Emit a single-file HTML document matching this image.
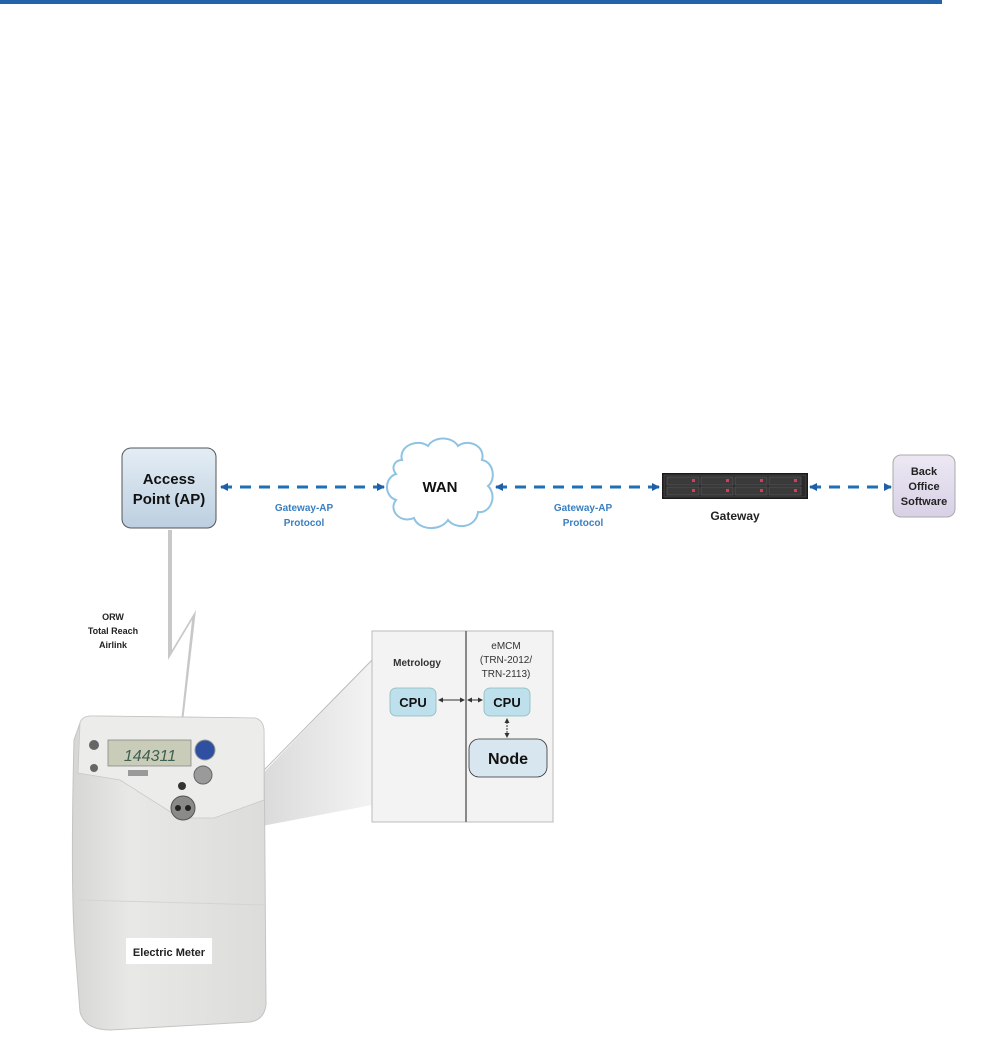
<!DOCTYPE html>
<html><head><meta charset="utf-8"><style>
html,body{margin:0;padding:0;background:#fff;}
svg{display:block;}
text{font-family:"Liberation Sans",sans-serif;font-weight:bold;}
</style></head><body>
<svg width="981" height="1047" viewBox="0 0 981 1047" xmlns="http://www.w3.org/2000/svg">
<defs>
<linearGradient id="ap" x1="0" y1="0" x2="0" y2="1"><stop offset="0" stop-color="#e4edf5"/><stop offset="1" stop-color="#bccfe0"/></linearGradient>
<linearGradient id="bo" x1="0" y1="0" x2="0" y2="1"><stop offset="0" stop-color="#ece8f3"/><stop offset="1" stop-color="#d8d1e6"/></linearGradient>
<linearGradient id="beam" x1="0" y1="0" x2="1" y2="0"><stop offset="0" stop-color="#bbb"/><stop offset="1" stop-color="#eee"/></linearGradient>
<linearGradient id="mb" x1="0" y1="0" x2="1" y2="0"><stop offset="0" stop-color="#d6d6d4"/><stop offset="0.3" stop-color="#e8e8e6"/><stop offset="1" stop-color="#dcdcda"/></linearGradient>
<marker id="ah" markerWidth="8" markerHeight="8" refX="7" refY="4" orient="auto-start-reverse" markerUnits="userSpaceOnUse"><path d="M0,0 L8,4 L0,8 z" fill="#1f5fa6"/></marker>
<marker id="sa" markerWidth="5" markerHeight="5" refX="4" refY="2.5" orient="auto-start-reverse" markerUnits="userSpaceOnUse"><path d="M0,0 L5,2.5 L0,5 z" fill="#333"/></marker>
</defs>
<rect x="0" y="0" width="942" height="4" fill="#2462aa"/>

<!-- AP -->
<rect x="122" y="448" width="94" height="80" rx="9" fill="url(#ap)" stroke="#555" stroke-width="1"/>
<text x="169" y="484" font-size="15" text-anchor="middle" fill="#111">Access</text>
<text x="169" y="504" font-size="15" text-anchor="middle" fill="#111">Point (AP)</text>

<!-- connectors -->
<g stroke="#1f6fb5" stroke-width="3" stroke-dasharray="11,8" fill="none">
<line x1="221" y1="487" x2="384" y2="487" marker-start="url(#ah)" marker-end="url(#ah)"/>
<line x1="496" y1="487" x2="659" y2="487" marker-start="url(#ah)" marker-end="url(#ah)"/>
<line x1="810" y1="487" x2="891" y2="487" marker-start="url(#ah)" marker-end="url(#ah)"/>
</g>
<g font-size="10" fill="#3a7fc0" text-anchor="middle">
<text x="304" y="511">Gateway-AP</text><text x="304" y="526">Protocol</text>
<text x="583" y="511">Gateway-AP</text><text x="583" y="526">Protocol</text>
</g>

<!-- cloud -->
<path d="M402,460 C398,446 418,438 428,446 C434,436 452,436 458,446 C468,438 486,446 482,460 C494,462 496,480 488,486 C498,496 490,514 478,512 C476,528 456,530 448,520 C440,532 418,530 414,518 C400,524 388,510 396,500 C384,496 384,478 396,474 C390,466 396,460 402,460 z" fill="#fff" stroke="#8fc3e3" stroke-width="2"/>
<text x="440" y="492" font-size="15" text-anchor="middle" fill="#111">WAN</text>

<!-- gateway rack -->
<rect x="662" y="473" width="146" height="26" fill="#1a1a1a"/>
<rect x="664" y="475" width="142" height="22" fill="#2b2b2b" stroke="#555" stroke-width="0.6"/>
<g fill="#3a3a3a" stroke="#666" stroke-width="0.5">
<rect x="667" y="477" width="32" height="8"/><rect x="701" y="477" width="32" height="8"/><rect x="735" y="477" width="32" height="8"/><rect x="769" y="477" width="32" height="8"/>
<rect x="667" y="487" width="32" height="8"/><rect x="701" y="487" width="32" height="8"/><rect x="735" y="487" width="32" height="8"/><rect x="769" y="487" width="32" height="8"/>
</g>
<g fill="#d0405c">
<rect x="692" y="479" width="3" height="3"/><rect x="726" y="479" width="3" height="3"/><rect x="760" y="479" width="3" height="3"/><rect x="794" y="479" width="3" height="3"/>
<rect x="692" y="489" width="3" height="3"/><rect x="726" y="489" width="3" height="3"/><rect x="760" y="489" width="3" height="3"/><rect x="794" y="489" width="3" height="3"/>
</g>
<text x="735" y="520" font-size="12" text-anchor="middle" fill="#222">Gateway</text>

<!-- back office -->
<rect x="893" y="455" width="62" height="62" rx="8" fill="url(#bo)" stroke="#aaa" stroke-width="1"/>
<g font-size="11" text-anchor="middle" fill="#222">
<text x="924" y="475">Back</text><text x="924" y="490">Office</text><text x="924" y="505">Software</text>
</g>

<!-- lightning -->
<path d="M170,530 L172,530 L172,650 L196,610 L183,722 L181,722 L192,620 L168,660 L168,530 z" fill="#c8c8c8"/>
<g font-size="9" text-anchor="middle" fill="#222">
<text x="113" y="620">ORW</text><text x="113" y="634">Total Reach</text><text x="113" y="648">Airlink</text>
</g>

<!-- zoom beams -->
<polygon points="215,823 372,660 372,805 215,835" fill="url(#beam)" opacity="0.7"/>
<line x1="215" y1="820" x2="372" y2="660" stroke="#bbb" stroke-width="1"/>

<!-- inset -->
<rect x="372" y="631" width="181" height="191" fill="#f3f3f3" stroke="#bbb" stroke-width="1"/>
<line x1="466" y1="631" x2="466" y2="822" stroke="#666" stroke-width="1.5"/>
<text x="417" y="666" font-size="10" text-anchor="middle" fill="#333">Metrology</text>
<g font-size="10" text-anchor="middle" fill="#333" font-weight="normal">
<text x="506" y="649" style="font-weight:normal">eMCM</text><text x="506" y="663" style="font-weight:normal">(TRN-2012/</text><text x="506" y="677" style="font-weight:normal">TRN-2113)</text>
</g>
<rect x="390" y="688" width="46" height="28" rx="6" fill="#bde0ec" stroke="#8bb" stroke-width="0.8"/>
<text x="413" y="707" font-size="13" text-anchor="middle" fill="#111">CPU</text>
<rect x="484" y="688" width="46" height="28" rx="6" fill="#bde0ec" stroke="#8bb" stroke-width="0.8"/>
<text x="507" y="707" font-size="13" text-anchor="middle" fill="#111">CPU</text>
<line x1="439" y1="700" x2="464" y2="700" stroke="#333" stroke-width="1" marker-start="url(#sa)" marker-end="url(#sa)"/>
<line x1="468" y1="700" x2="482" y2="700" stroke="#333" stroke-width="1" marker-start="url(#sa)" marker-end="url(#sa)"/>
<line x1="507" y1="719" x2="507" y2="737" stroke="#333" stroke-width="1" stroke-dasharray="2,1" marker-start="url(#sa)" marker-end="url(#sa)"/>
<rect x="469" y="739" width="78" height="38" rx="10" fill="#d8e6f0" stroke="#333" stroke-width="0.8"/>
<text x="508" y="764" font-size="16" text-anchor="middle" fill="#111">Node</text>

<!-- meter -->
<path d="M80,723 Q82,716 92,716 L255,718 Q263,720 264,730 L266,1005 Q264,1020 250,1022 L110,1030 Q85,1030 80,1012 L76,960 Q70,900 74,740 Z" fill="url(#mb)" stroke="#c4c4c2" stroke-width="1"/>
<path d="M80,723 Q82,716 92,716 L255,718 Q263,720 264,730 L264,800 L214,818 L180,818 L120,780 L78,773 Z" fill="#ececea" stroke="#c8c8c6" stroke-width="0.8"/>
<rect x="108" y="740" width="83" height="26" fill="#c9ccb8" stroke="#888" stroke-width="0.8"/>
<text x="150" y="761" font-size="16" fill="#3f6050" text-anchor="middle" font-style="italic" style="font-weight:normal">144311</text>
<circle cx="205" cy="750" r="10" fill="#2f4fa0" stroke="#999"/>
<circle cx="203" cy="775" r="9" fill="#9a9a9a" stroke="#666"/>
<circle cx="182" cy="786" r="4" fill="#333"/>
<circle cx="183" cy="808" r="12" fill="#8a8a88" stroke="#555"/>
<circle cx="178" cy="808" r="3" fill="#222"/><circle cx="188" cy="808" r="3" fill="#222"/>
<circle cx="94" cy="745" r="5" fill="#666"/><circle cx="94" cy="768" r="4" fill="#666"/>
<rect x="128" y="770" width="20" height="6" fill="#999"/>
<line x1="78" y1="900" x2="266" y2="905" stroke="#d4d4d2" stroke-width="1"/>
<rect x="126" y="938" width="86" height="26" fill="#fff"/>
<text x="169" y="956" font-size="11" text-anchor="middle" fill="#222">Electric Meter</text>
</svg>
</body></html>
